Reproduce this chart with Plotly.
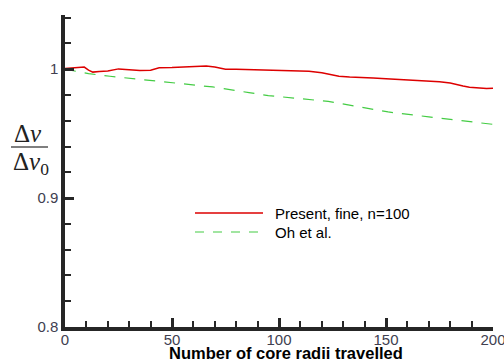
import plotly.graph_objects as go

present_x = [0, 3, 6, 9, 11, 13, 16, 20, 25, 30, 35, 40, 44, 50, 55, 60, 66, 70, 75, 80, 86, 92, 98, 102,
             108, 114, 120, 125, 128, 133, 138, 144, 150, 156, 162, 167, 171, 175, 180, 183, 186, 189, 193, 197, 200]
present_y = [1.0005, 1.0010, 1.0013, 1.0016, 0.9992, 0.9977, 0.9982, 0.9985, 1.0002, 0.9997, 0.9989, 0.9992,
             1.0010, 1.0012, 1.0015, 1.0019, 1.0025, 1.0017, 0.9999, 1.0000, 0.9997, 0.9995, 0.9992, 0.9989,
             0.9985, 0.9983, 0.9972, 0.9957, 0.9945, 0.9939, 0.9937, 0.9932, 0.9925, 0.9919, 0.9917, 0.9912,
             0.9907, 0.9902, 0.9892, 0.9879, 0.9869, 0.9859, 0.9855, 0.9849, 0.9852]

oh_x = [0, 11, 21, 35, 53, 69, 86, 95, 123, 151, 170, 200]
oh_y = [1.000, 0.9965, 0.9945, 0.9922, 0.9887, 0.9862, 0.9818, 0.9795, 0.9750, 0.9668, 0.9630, 0.9572]

x_ticks = [0, 50, 100, 150, 200]
y_ticks = [0.8, 0.9, 1.0]
y_ticktext = ["0.8", "0.9", "1"]
legend_names = ["Present, fine, n=100", "Oh et al."]
red = "#dd0000"
green = "#44cc44"
axis_col = "#262626"
x_range = [0, 200]
y_range = [0.8, 1.042]

fig = go.Figure()
fig.add_trace(go.Scatter(x=present_x, y=present_y, mode="lines", name=legend_names[0],
                         line=dict(color=red, width=1.5), showlegend=False))
fig.add_trace(go.Scatter(x=oh_x, y=oh_y, mode="lines", name=legend_names[1],
                         line=dict(color=green, width=1.2, dash="11px,9px"), showlegend=False))
fig.add_trace(go.Scatter(x=[], y=[], xaxis="x2", yaxis="y2", mode="lines", showlegend=False, hoverinfo="skip"))

tickfont = dict(family="Liberation Sans, Arial", size=15, color="#404050")
fig.update_layout(
    xaxis=dict(range=x_range, tickvals=x_ticks, ticks="inside", ticklen=9, tickwidth=2.5,
               tickcolor=axis_col, showline=True, linewidth=3.5, linecolor=axis_col, showgrid=False,
               zeroline=False, tickfont=tickfont, ticklabeloverflow="allow", automargin=False,
               ticklabelstandoff=-4),
    yaxis=dict(range=y_range, tickvals=y_ticks, ticktext=y_ticktext, ticks="inside",
               ticklen=9, tickwidth=2.5, tickcolor=axis_col, showline=True, linewidth=3.5, linecolor=axis_col,
               showgrid=False, zeroline=False, tickfont=tickfont, automargin=False),
    xaxis2=dict(overlaying="x", anchor="y2", range=x_range, tick0=0, dtick=10, ticks="inside", ticklen=6,
                tickwidth=1.5, tickcolor=axis_col, showticklabels=False, showline=False, showgrid=False,
                zeroline=False, automargin=False),
    yaxis2=dict(overlaying="y", anchor="x2", side="left", range=y_range, tick0=0.8, dtick=0.02, ticks="inside",
                ticklen=6, tickwidth=1.5, tickcolor=axis_col, showticklabels=False, showline=False,
                showgrid=False, zeroline=False, automargin=False),
)

W, H = 504, 360
ml, mr, mt, mb = 65, 11, 15, 33
pw, ph = W - ml - mr, H - mt - mb


def px(xp):
    return (xp - ml) / pw


def py(yp):
    return (H - mb - yp) / ph


shapes = []
annotations = []
for i, (name, col, dash) in enumerate([(legend_names[0], red, "solid"), (legend_names[1], green, "dash")]):
    yy = 213 + i * 19
    shapes.append(dict(type="line", xref="paper", yref="paper", x0=px(195), x1=px(263), y0=py(yy), y1=py(yy),
                       line=dict(color=col, width=1.3 if i == 0 else 1.2, dash=dash)))
    annotations.append(dict(xref="paper", yref="paper", x=px(274), y=py(yy), text=name, showarrow=False,
                            xanchor="left", yanchor="middle", borderpad=0,
                            font=dict(family="Liberation Sans, Arial", size=15, color="black")))

serif = dict(family="Liberation Serif, Times New Roman", size=25, color="#222")
annotations.append(dict(xref="paper", yref="paper", x=px(28), y=py(133), text="Δ<i>v</i>", showarrow=False,
                        xanchor="center", yanchor="middle", font=serif))
annotations.append(dict(xref="paper", yref="paper", x=px(31), y=py(163), text="Δ<i>v</i><sub>0</sub>",
                        showarrow=False, xanchor="center", yanchor="middle", font=serif))
shapes.append(dict(type="line", xref="paper", yref="paper", x0=px(11), x1=px(48), y0=py(147), y1=py(147),
                   line=dict(color="#555", width=1.5)))

annotations.append(dict(xref="paper", yref="paper", x=px(286), y=py(343), text="<b>Number of core radii travelled</b>",
                        showarrow=False, xanchor="center", yanchor="top", borderpad=0,
                        font=dict(family="Liberation Sans, Arial", size=16.5, color="black")))

fig.update_layout(width=W, height=H, margin=dict(l=ml, r=mr, t=mt, b=mb), plot_bgcolor="white",
                  paper_bgcolor="white", shapes=shapes, annotations=annotations, showlegend=False)

fig.write_html("out.html")
